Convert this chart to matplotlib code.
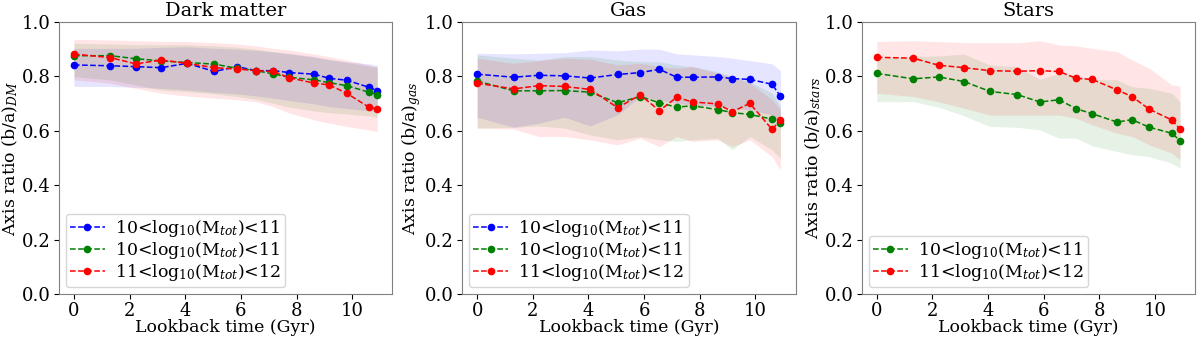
import matplotlib
matplotlib.use("Agg")
import matplotlib.pyplot as plt
import numpy as np

plt.rcParams['font.family'] = ['DejaVu Serif']
plt.rcParams['mathtext.fontset'] = 'dejavuserif'
plt.rcParams['font.size'] = 12

# Lookback times (Gyr)
t = [0, 1.31, 2.22, 3.14, 4.06, 5.05, 5.86, 6.55, 7.17, 7.74, 8.64, 9.17, 9.8, 10.6, 10.9]

lab_a = r'10<log$_{10}$(M$_{tot}$)<11'
lab_b = r'10<log$_{10}$(M$_{tot}$)<11'
lab_c = r'11<log$_{10}$(M$_{tot}$)<12'

# ---- Dark matter ----
dm_blue = [0.842, 0.839, 0.836, 0.832, 0.848, 0.818, 0.836, 0.821, 0.821, 0.814, 0.808, 0.793, 0.786, 0.760, 0.748]
dm_blue_hi = [0.903, 0.903, 0.903, 0.907, 0.909, 0.903, 0.900, 0.895, 0.890, 0.885, 0.873, 0.863, 0.854, 0.846, 0.842]
dm_blue_lo = [0.763, 0.763, 0.760, 0.756, 0.750, 0.741, 0.736, 0.728, 0.720, 0.711, 0.699, 0.689, 0.682, 0.674, 0.667]
dm_green = [0.876, 0.876, 0.865, 0.857, 0.851, 0.845, 0.830, 0.821, 0.809, 0.797, 0.787, 0.777, 0.766, 0.742, 0.733]
dm_green_hi = [0.922, 0.919, 0.916, 0.916, 0.916, 0.912, 0.907, 0.900, 0.891, 0.882, 0.870, 0.861, 0.851, 0.838, 0.834]
dm_green_lo = [0.799, 0.787, 0.769, 0.750, 0.744, 0.736, 0.726, 0.716, 0.701, 0.687, 0.673, 0.667, 0.662, 0.655, 0.650]
dm_red = [0.882, 0.869, 0.846, 0.860, 0.848, 0.832, 0.827, 0.821, 0.818, 0.795, 0.775, 0.769, 0.738, 0.687, 0.679]
dm_red_hi = [0.936, 0.934, 0.931, 0.929, 0.928, 0.924, 0.919, 0.912, 0.903, 0.897, 0.882, 0.873, 0.860, 0.842, 0.834]
dm_red_lo = [0.787, 0.775, 0.756, 0.738, 0.728, 0.720, 0.714, 0.707, 0.689, 0.665, 0.640, 0.628, 0.616, 0.603, 0.597]

# ---- Gas ----
gas_blue = [0.808, 0.797, 0.804, 0.802, 0.794, 0.807, 0.814, 0.826, 0.797, 0.797, 0.798, 0.792, 0.789, 0.771, 0.727]
gas_blue_hi = [0.885, 0.883, 0.885, 0.887, 0.897, 0.894, 0.900, 0.900, 0.883, 0.879, 0.873, 0.867, 0.858, 0.846, 0.821]
gas_blue_lo = [0.650, 0.613, 0.628, 0.650, 0.618, 0.659, 0.726, 0.714, 0.701, 0.695, 0.689, 0.683, 0.677, 0.658, 0.628]
gas_green = [0.783, 0.747, 0.747, 0.748, 0.742, 0.703, 0.726, 0.703, 0.687, 0.692, 0.678, 0.667, 0.660, 0.643, 0.630]
gas_green_hi = [0.879, 0.867, 0.860, 0.873, 0.873, 0.860, 0.854, 0.854, 0.842, 0.836, 0.818, 0.799, 0.781, 0.738, 0.689]
gas_green_lo = [0.610, 0.613, 0.618, 0.610, 0.585, 0.567, 0.579, 0.567, 0.561, 0.567, 0.573, 0.530, 0.579, 0.530, 0.499]
gas_red = [0.775, 0.754, 0.766, 0.763, 0.752, 0.685, 0.732, 0.674, 0.723, 0.706, 0.699, 0.670, 0.701, 0.605, 0.640]
gas_red_hi = [0.867, 0.848, 0.858, 0.867, 0.863, 0.842, 0.848, 0.836, 0.830, 0.836, 0.812, 0.799, 0.775, 0.714, 0.677]
gas_red_lo = [0.610, 0.606, 0.579, 0.579, 0.567, 0.548, 0.573, 0.542, 0.579, 0.561, 0.567, 0.542, 0.567, 0.505, 0.456]

# ---- Stars ----
st_green = [0.811, 0.791, 0.798, 0.781, 0.745, 0.733, 0.706, 0.714, 0.681, 0.663, 0.632, 0.641, 0.613, 0.591, 0.564]
st_green_hi = [0.867, 0.873, 0.875, 0.882, 0.842, 0.836, 0.789, 0.811, 0.802, 0.789, 0.787, 0.762, 0.756, 0.738, 0.707]
st_green_lo = [0.707, 0.707, 0.687, 0.655, 0.616, 0.613, 0.603, 0.573, 0.573, 0.545, 0.524, 0.512, 0.505, 0.481, 0.463]
st_red = [0.870, 0.867, 0.841, 0.832, 0.821, 0.819, 0.821, 0.818, 0.793, 0.789, 0.750, 0.726, 0.679, 0.640, 0.606]
st_red_hi = [0.928, 0.931, 0.928, 0.924, 0.924, 0.924, 0.931, 0.916, 0.912, 0.903, 0.891, 0.861, 0.830, 0.769, 0.765]
st_red_lo = [0.738, 0.726, 0.707, 0.683, 0.658, 0.658, 0.658, 0.658, 0.646, 0.622, 0.591, 0.579, 0.548, 0.518, 0.493]

fig = plt.figure(figsize=(12, 3.38), dpi=100)
lefts = [0.049, 0.385, 0.718]
w = 0.278
bottom = 0.13
height = 0.805

panels = [
    ("Dark matter", r'Axis ratio (b/a)$_{DM}$',
     [('b', dm_blue, dm_blue_lo, dm_blue_hi, lab_a),
      ('g', dm_green, dm_green_lo, dm_green_hi, lab_b),
      ('r', dm_red, dm_red_lo, dm_red_hi, lab_c)]),
    ("Gas", r'Axis ratio (b/a)$_{gas}$',
     [('b', gas_blue, gas_blue_lo, gas_blue_hi, lab_a),
      ('g', gas_green, gas_green_lo, gas_green_hi, lab_b),
      ('r', gas_red, gas_red_lo, gas_red_hi, lab_c)]),
    ("Stars", r'Axis ratio (b/a)$_{stars}$',
     [('g', st_green, st_green_lo, st_green_hi, lab_b),
      ('r', st_red, st_red_lo, st_red_hi, lab_c)]),
]

for i, (title, ylabel, series) in enumerate(panels):
    ax = fig.add_axes([lefts[i], bottom, w, height])
    for c, y, lo, hi, lab in series:
        ax.fill_between(t, lo, hi, color=c, alpha=0.1, linewidth=0)
        ax.plot(t, y, '--o', color=c, markersize=4.5, linewidth=1.1, label=lab)
    ax.set_ylim(0, 1.0)
    ax.set_xticks([0, 2, 4, 6, 8, 10])
    ax.set_title(title, fontsize=14, pad=4)
    ax.set_xlabel('Lookback time (Gyr)', fontsize=12.5, labelpad=-1)
    ax.set_ylabel(ylabel, fontsize=12.5, labelpad=1)
    ax.tick_params(labelsize=13, pad=2.5)
    for s in ax.spines.values():
        s.set_color('#808080')
    ax.legend(loc='lower left', fontsize=12.5, framealpha=0.8,
              labelspacing=0.05, borderpad=0.25, handletextpad=0.6,
              borderaxespad=0.4)

fig.savefig('out.png', dpi=100)
